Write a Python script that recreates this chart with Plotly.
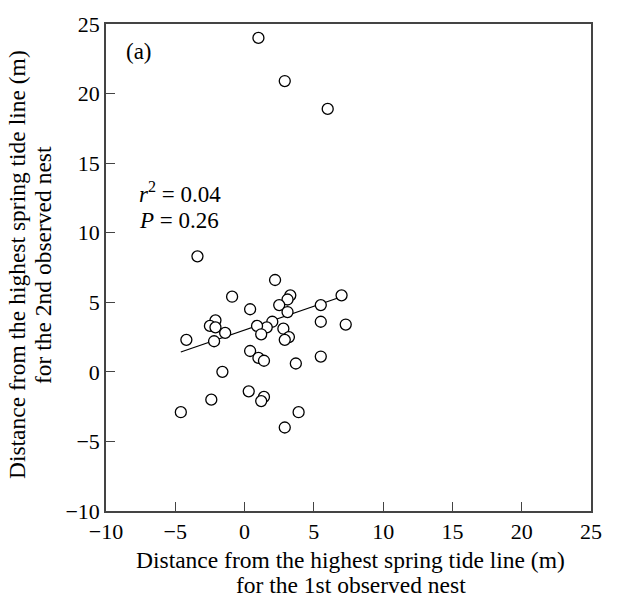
import plotly.graph_objects as go

# data (m)
x_first = [1.0, 2.9, 6.0,
           -3.4, 2.2, -0.9, 3.3, 3.1, 2.5, 3.1, 0.4, 5.5, 7.0, 5.5, 7.3,
           2.0, 1.6, 0.9, 1.2, 2.8, 3.2, 2.9, -2.1, -2.5, -2.1, -1.4, -2.2,
           -4.2, 0.4, 1.0, 1.4, 5.5, 3.7, -1.6, 0.3, 1.4, 1.2, -2.4, -4.6,
           3.9, 2.9]
y_second = [24.0, 20.9, 18.9,
            8.3, 6.6, 5.4, 5.5, 5.2, 4.8, 4.3, 4.5, 4.8, 5.5, 3.6, 3.4,
            3.6, 3.2, 3.3, 2.7, 3.1, 2.5, 2.3, 3.7, 3.3, 3.2, 2.8, 2.2,
            2.3, 1.5, 1.0, 0.8, 1.1, 0.6, 0.0, -1.4, -1.8, -2.1, -2.0, -2.9,
            -2.9, -4.0]
fit_x = [-4.6, 7.1]
fit_y = [1.43, 5.43]

tick_vals = [-10, -5, 0, 5, 10, 15, 20, 25]
tick_text = ["\u221210", "\u22125", "0", "5", "10", "15", "20", "25"]

x_title = ["Distance from the highest spring tide line (m)", "for the 1st observed nest"]
y_title = ["Distance from the highest spring tide line (m)", "for the 2nd observed nest"]

FONT = "Liberation Serif"
FS = 23.5
AFS = 23
TFS = 22

fig = go.Figure()
fig.add_trace(go.Scatter(x=fit_x, y=fit_y, mode="lines",
                         line=dict(color="black", width=1.2), showlegend=False))
fig.add_trace(go.Scatter(x=x_first, y=y_second, mode="markers",
                         marker=dict(symbol="circle", size=11, color="white",
                                     line=dict(color="black", width=1.3)),
                         showlegend=False))

axis_common = dict(range=[-10, 25], tickvals=tick_vals, ticktext=tick_text,
                   showline=True, linecolor="#444", linewidth=1.5, mirror=True,
                   ticks="inside", ticklen=9, tickwidth=1.3, tickcolor="#444",
                   showgrid=False, zeroline=False,
                   tickfont=dict(family=FONT, size=TFS, color="black"))

fig.update_xaxes(**axis_common)
fig.update_yaxes(**axis_common)

tf = dict(family=FONT, size=FS, color="black")
af = dict(family=FONT, size=AFS, color="black")
for txt, py in zip(x_title, [-0.0998, -0.1527]):
    fig.add_annotation(x=0.505, y=py, xref="paper", yref="paper", text=txt,
                       showarrow=False, xanchor="center", yanchor="middle",
                       borderpad=0, font=tf)
for txt, px in zip(y_title, [-0.1835, -0.1299]):
    fig.add_annotation(x=px, y=0.505, xref="paper", yref="paper", text=txt, textangle=-90,
                       showarrow=False, xanchor="center", yanchor="middle",
                       borderpad=0, font=tf)

fig.add_annotation(x=-8.7, y=23.0, xref="x", yref="y", text="(a)", showarrow=False,
                   xanchor="left", yanchor="middle", font=af)
fig.add_annotation(x=-7.75, y=12.9, xref="x", yref="y",
                   text="<i>r</i><sup>2</sup> = 0.04", showarrow=False,
                   xanchor="left", yanchor="middle", font=af)
fig.add_annotation(x=-7.75, y=10.9, xref="x", yref="y",
                   text="<i>P</i> = 0.26", showarrow=False,
                   xanchor="left", yanchor="middle", font=af)

fig.update_layout(width=620, height=598, margin=dict(l=106, r=29, t=20, b=87),
                  plot_bgcolor="white", paper_bgcolor="white",
                  font=dict(family=FONT, size=FS, color="black"))

fig.write_html("out.html")
